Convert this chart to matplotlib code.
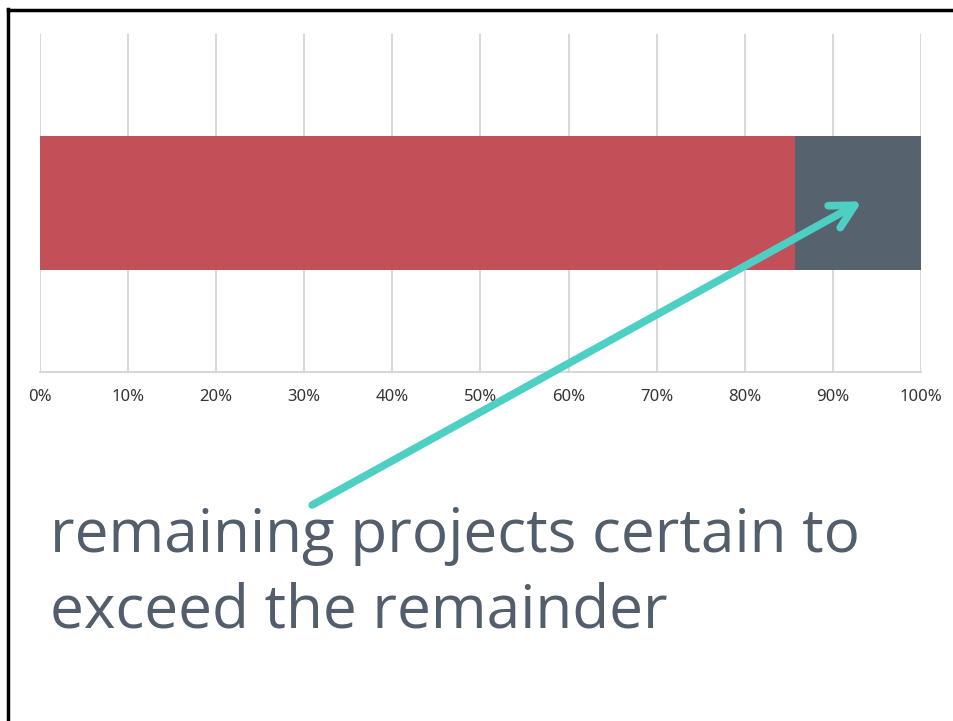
import matplotlib.pyplot as plt
from matplotlib.lines import Line2D
from matplotlib.ticker import PercentFormatter

# data
categories = ["projects"]
done_share = [0.857]
remaining_share = [0.143]
tick_values = [i / 10 for i in range(11)]

RED = "#C34F59"
SLATE = "#56636F"
TEAL = "#4ECFC3"
TEXT = "#525E6B"

W, H = 954, 721
fig = plt.figure(figsize=(W / 100, H / 100), dpi=100)

ax = fig.add_axes([40 / W, 1 - 372 / H, 881 / W, 338 / H])
ax.set_axisbelow(True)

ax.barh(categories, done_share, height=0.787, color=RED)
ax.barh(categories, remaining_share, left=done_share, height=0.787, color=SLATE)

ax.set_xlim(0, 1)
ax.set_ylim(-1, 1)
ax.set_xticks(tick_values)
ax.xaxis.set_major_formatter(PercentFormatter(1.0, decimals=0))
ax.set_yticks([])
ax.grid(axis="x", color="#D4D4D4", linewidth=1.3)
for side in ["top", "right", "left"]:
    ax.spines[side].set_visible(False)
ax.spines["bottom"].set_color("#D4D4D4")
ax.spines["bottom"].set_linewidth(1.3)
ax.tick_params(axis="x", length=0, pad=12, labelsize=12, labelcolor="#333333")
for lab in ax.get_xticklabels():
    lab.set_family("Noto Sans")

# arrow pointing into the remaining segment
ax.annotate(
    "",
    xy=(0.933, 0.01),
    xytext=(0.309, -1.787),
    xycoords="data",
    textcoords="data",
    annotation_clip=False,
    arrowprops=dict(arrowstyle="->,head_length=1.7,head_width=0.9",
                    color=TEAL, lw=5.5, shrinkA=0, shrinkB=0,
                    capstyle="round", joinstyle="round"),
)

fig.text(50 / W, 1 - 627 / H, "remaining projects certain to\nexceed the remainder",
         fontsize=43.4, color=TEXT, family="Open Sans", ha="left", va="baseline",
         linespacing=1.33)

# slide frame (left and top edges)
fig.add_artist(Line2D([8 / W, 8 / W], [0, 1 - 9 / H], color="black", lw=2.5,
                      transform=fig.transFigure))
fig.add_artist(Line2D([8 / W, 1], [1 - 10 / H, 1 - 10 / H], color="black", lw=2.5,
                      transform=fig.transFigure))

fig.savefig("out.png", dpi=100)
